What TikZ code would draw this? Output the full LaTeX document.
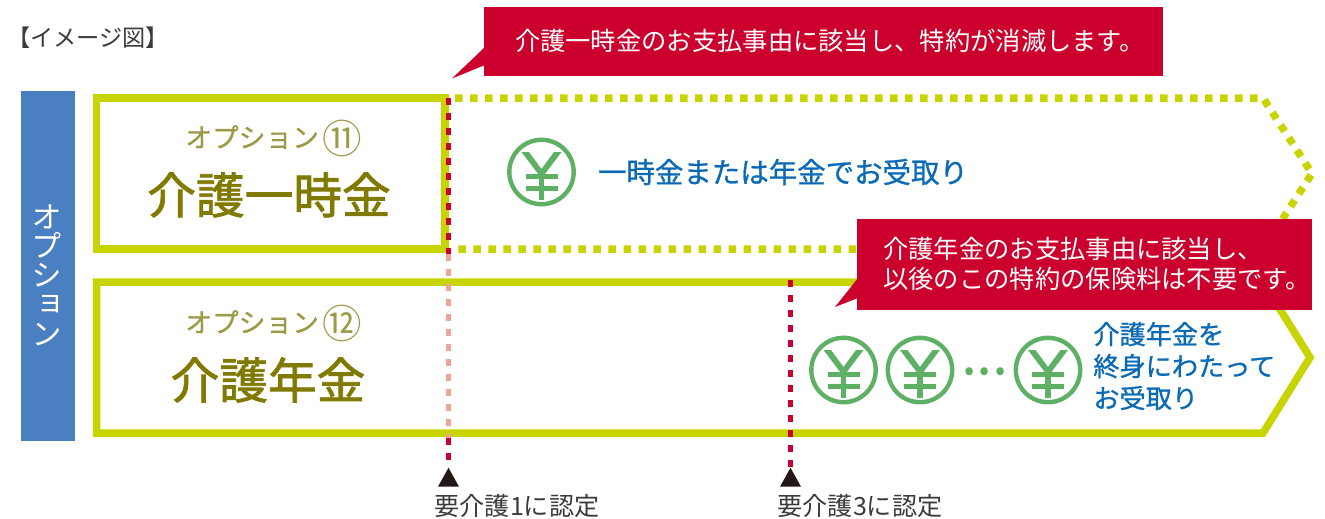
\documentclass[tikz,border=0pt]{standalone}
\usepackage{fontspec}
\usepackage{xcolor}
\setmainfont{Noto Sans CJK JP}
\newfontfamily\vertfont[RawFeature=+vert]{Noto Sans CJK JP}
\newfontfamily\heavyfont[FakeBold=1.6]{Noto Sans CJK JP}
\newfontfamily\halffont[FakeBold=0.9]{Noto Sans CJK JP}
\usetikzlibrary{calc,positioning,shapes.geometric}
\definecolor{barblue}{RGB}{74,127,193}
\definecolor{limeline}{RGB}{200,212,0}
\definecolor{boxred}{RGB}{204,0,44}
\definecolor{palered}{RGB}{236,165,150}
\definecolor{yengreen}{RGB}{93,176,100}
\definecolor{oliveone}{RGB}{128,122,0}
\definecolor{olivetwo}{RGB}{156,154,70}
\definecolor{textblue}{RGB}{10,106,181}
\definecolor{darkgray}{RGB}{62,58,57}
\definecolor{markblack}{RGB}{35,24,21}
\tikzstyle{limeline}=[draw=limeline,line width=4.27pt,line join=miter]
\tikzstyle{limedots}=[limeline,dash pattern=on 4.27pt off 4.27pt]
\tikzstyle{redbox}=[fill=boxred,inner sep=0pt]
\tikzstyle{reddash}=[draw=boxred,line width=2.5pt,dash pattern=on 4pt off 4.55pt]
\tikzstyle{paledash}=[reddash,draw=palered]
\tikzstyle{marker}=[isosceles triangle,isosceles triangle apex angle=58,shape border rotate=90,fill=markblack,inner sep=0pt,minimum height=0.38cm,minimum width=0.42cm,anchor=apex]
\tikzstyle{redtext}=[text=white,font=\fontsize{14.4}{17}\selectfont,inner sep=0pt]
\tikzstyle{smalltitle}=[text=olivetwo,font=\halffont\fontsize{15.2}{18}\selectfont,anchor=west,inner sep=0pt]
\tikzstyle{bigtitle}=[text=oliveone,font=\heavyfont\fontsize{27.7}{32}\selectfont]
\tikzstyle{bluetext}=[text=textblue,font=\halffont\fontsize{16.2}{20}\selectfont]
\tikzstyle{marklabel}=[text=darkgray,font=\fontsize{14.3}{16}\selectfont]
\tikzset{yen/.pic={
\draw[yengreen,line width=2.5pt] (0,0) circle (32.2);
\fill[yengreen] (-20,-20)--(-12.5,-20)--(0,-3)--(12.5,-20)--(20,-20)--(2.6,3)--(-2.6,3)--cycle;
\draw[yengreen,line width=3pt] (0,2)--(0,28);
\draw[yengreen,line width=2.85pt] (-16,4)--(16,4);
\draw[yengreen,line width=2.85pt] (-16,16)--(16,16);
}}
\newcommand{\circlednum}[1]{\hspace{-1.5pt}\raisebox{-3.2pt}{\normalfont\fontsize{22.5}{23}\selectfont #1}}
\begin{document}
\begin{tikzpicture}[x=0.02cm,y=-0.02cm]
\useasboundingbox (0,0) rectangle (1325,518);
\node[text=darkgray,font=\fontsize{13.2}{16}\selectfont,inner sep=0pt](imagetitle)at (88,38){【イメージ図】};
% side bar
\node[fill=barblue,minimum width=1.09cm,minimum height=7cm,inner sep=0pt](sidebar)at (47.75,266){};
\node[text=white,align=center,inner sep=0pt,font=\vertfont\fontsize{17.5}{16.6}\selectfont](sidetext)at (47,275){オ\\プ\\シ\\ョ\\ン};
% option 11
\draw[limedots] (455,98)--(1263,98)--(1311,172);
\draw[limedots] (1311,175)--(1263,249)--(456,249);
\draw[limeline] (96.5,98) rectangle (445,249);
\node[smalltitle](optioneleven)at (185,138){オプション \circlednum{⑪}};
\node[bigtitle](careone)at (269,195){介護一時金};
\pic (yenone) at (541.5,172) {yen};
\node[bluetext](lumpsum)at (783,172){一時金または年金でお受取り};
% option 12
\draw[limeline] (1263,282)--(96.5,282)--(96.5,433)--(1263,433)--(1310,357.5)--cycle;
\node[smalltitle](optiontwelve)at (185,323){オプション \circlednum{⑫}};
\node[bigtitle](caretwo)at (268,380){介護年金};
\pic (yentwo) at (843.5,370) {yen};
\pic (yenthree) at (920,370) {yen};
\pic (yenfour) at (1048,370) {yen};
\node[text=yengreen,font=\fontsize{17}{18}\selectfont,inner sep=0pt](yendots)at (985,374){•\hspace{3pt}•\hspace{3pt}•};
\node[text=textblue,font=\halffont\fontsize{14.9}{18.2}\selectfont,align=left,anchor=west,inner sep=0pt](annuity)at (1093,366){介護年金を\\終身にわたって\\お受取り};
% markers and dashed lines
\node[marker](markone)at (448.5,467){};
\node[marker](markthree)at (790.5,467){};
\coordinate (lineonetop) at (448.5,98);
\coordinate (lineonea) at (448.5,254);
\coordinate (lineoneb) at (448.5,438);
\coordinate (linethreetop) at (790.5,280);
\draw[reddash] (lineonetop)--(lineonea);
\draw[paledash] (lineonea)--(lineoneb);
\draw[reddash] (lineoneb)--(markone.apex);
\draw[reddash] (linethreetop)--(markthree.apex);
\node[marklabel](labelone)at (517,506){要介護1に認定};
\node[marklabel](labelthree)at (860,506){要介護3に認定};
% red boxes
\node[redbox,minimum width=13.58cm,minimum height=1.38cm](boxone)at (823.5,41.5){};
\fill[boxred] (485,47)--(452,78.5)--(485,65)--cycle;
\node[redtext](boxonetext)at (830,41){介護一時金のお支払事由に該当し、特約が消滅します。};
\node[redbox,minimum width=9.1cm,minimum height=1.82cm](boxtwo)at (1084.5,264.5){};
\fill[boxred] (858,278)--(835,307)--(858,298)--cycle;
\node[redtext,align=left,anchor=west](boxtwotext)at (883,264){介護年金のお支払事由に該当し、\\以後のこの特約の保険料は不要です。};
\end{tikzpicture}
\end{document}
